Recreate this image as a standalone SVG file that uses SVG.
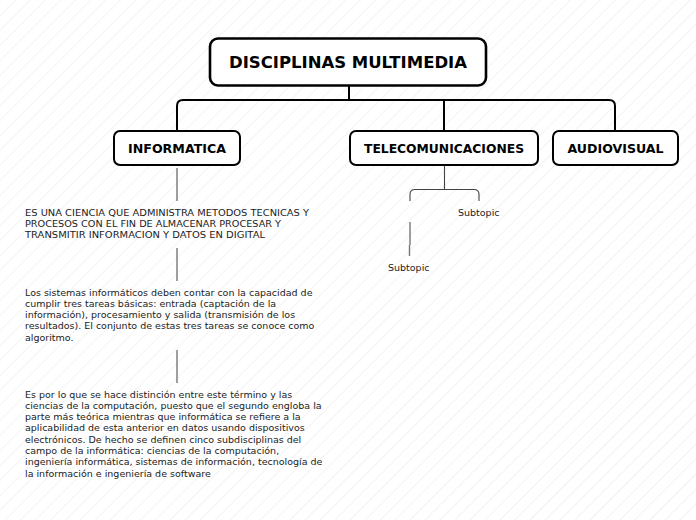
<svg xmlns="http://www.w3.org/2000/svg" width="696" height="520" viewBox="0 0 696 520">
<style>
.bg{fill:url(#stripes)}
.box{fill:#fff;stroke:#000;stroke-width:2}
.root{fill:#fff;stroke:#000;stroke-width:2.6}
.title{font-family:"DejaVu Sans",Verdana,sans-serif;font-weight:bold;fill:#000;text-anchor:middle}
.body{font-family:"DejaVu Sans",Verdana,sans-serif;font-size:9.5px;fill:#222}
.conn{fill:none;stroke:#000;stroke-width:2}
.sub{fill:none;stroke:#777;stroke-width:1.4}
.br{fill:none;stroke:#444;stroke-width:1.1}
</style>
<defs>
<pattern id="stripes" patternUnits="userSpaceOnUse" width="10.6" height="10.6" patternTransform="rotate(45)">
<line x1="0" y1="0" x2="0" y2="10.6" stroke="#e6e6e6" stroke-width="1"/>
</pattern>
</defs>
<rect x="0" y="0" width="696" height="520" fill="#fff"/>
<rect class="bg" x="0" y="0" width="696" height="520"/>
<g id="connectors">
<path class="conn" d="M349,86 V100"/>
<path class="conn" d="M177,131 V106 Q177,100 183,100 H609 Q615,100 615,106 V131"/>
<path class="conn" d="M444,100 V131"/>
<path class="sub" d="M177,168 V201 M177,248 V281 M177,350 V383"/>
<path class="br" d="M444.5,165 V189.5 M410,201 V194.5 Q410,189.5 415,189.5 H474 Q479,189.5 479,194.5 V201"/>
<path class="sub" d="M410,222 V245 M409.5,245 V256"/>
</g>
<g id="root">
<rect class="root" x="210" y="38.5" width="276" height="47" rx="8"/>
<text class="title" x="348" y="68" font-size="16" textLength="238" lengthAdjust="spacingAndGlyphs">DISCIPLINAS MULTIMEDIA</text>
</g>
<g id="informatica">
<rect class="box" x="114" y="131" width="126" height="34" rx="6"/>
<text class="title" x="177" y="152.5" font-size="12.3" textLength="98" lengthAdjust="spacingAndGlyphs">INFORMATICA</text>
</g>
<g id="telecomunicaciones">
<rect class="box" x="350" y="131" width="188" height="34" rx="6"/>
<text class="title" x="444" y="152.5" font-size="12.3" textLength="160" lengthAdjust="spacingAndGlyphs">TELECOMUNICACIONES</text>
</g>
<g id="audiovisual">
<rect class="box" x="553" y="131" width="125" height="34" rx="6"/>
<text class="title" x="615.5" y="152.5" font-size="12.3" textLength="96" lengthAdjust="spacingAndGlyphs">AUDIOVISUAL</text>
</g>
<g id="info-text-1">
<text class="body" x="25" y="215.5" textLength="284" lengthAdjust="spacingAndGlyphs">ES UNA CIENCIA QUE ADMINISTRA METODOS TECNICAS Y</text>
<text class="body" x="25" y="226.8" textLength="256" lengthAdjust="spacingAndGlyphs">PROCESOS CON EL FIN DE ALMACENAR PROCESAR Y</text>
<text class="body" x="25" y="238.1" textLength="240" lengthAdjust="spacingAndGlyphs">TRANSMITIR INFORMACION Y DATOS EN DIGITAL</text>
</g>
<g id="info-text-2">
<text class="body" x="25" y="295.5">Los sistemas informáticos deben contar con la capacidad de</text>
<text class="body" x="25" y="306.8">cumplir tres tareas básicas: entrada (captación de la</text>
<text class="body" x="25" y="318.1">información), procesamiento y salida (transmisión de los</text>
<text class="body" x="25" y="329.4">resultados). El conjunto de estas tres tareas se conoce como</text>
<text class="body" x="25" y="340.7">algoritmo.</text>
</g>
<g id="info-text-3">
<text class="body" x="25" y="397.5">Es por lo que se hace distinción entre este término y las</text>
<text class="body" x="25" y="408.8">ciencias de la computación, puesto que el segundo engloba la</text>
<text class="body" x="25" y="420.1">parte más teórica mientras que informática se refiere a la</text>
<text class="body" x="25" y="431.4">aplicabilidad de esta anterior en datos usando dispositivos</text>
<text class="body" x="25" y="442.7">electrónicos. De hecho se definen cinco subdisciplinas del</text>
<text class="body" x="25" y="454">campo de la informática: ciencias de la computación,</text>
<text class="body" x="25" y="465.3">ingeniería informática, sistemas de información, tecnología de</text>
<text class="body" x="25" y="476.6">la información e ingeniería de software</text>
</g>
<g id="subtopic-1">
<text class="body" x="458" y="216.3">Subtopic</text>
</g>
<g id="subtopic-2">
<text class="body" x="388" y="271.3">Subtopic</text>
</g>
</svg>
